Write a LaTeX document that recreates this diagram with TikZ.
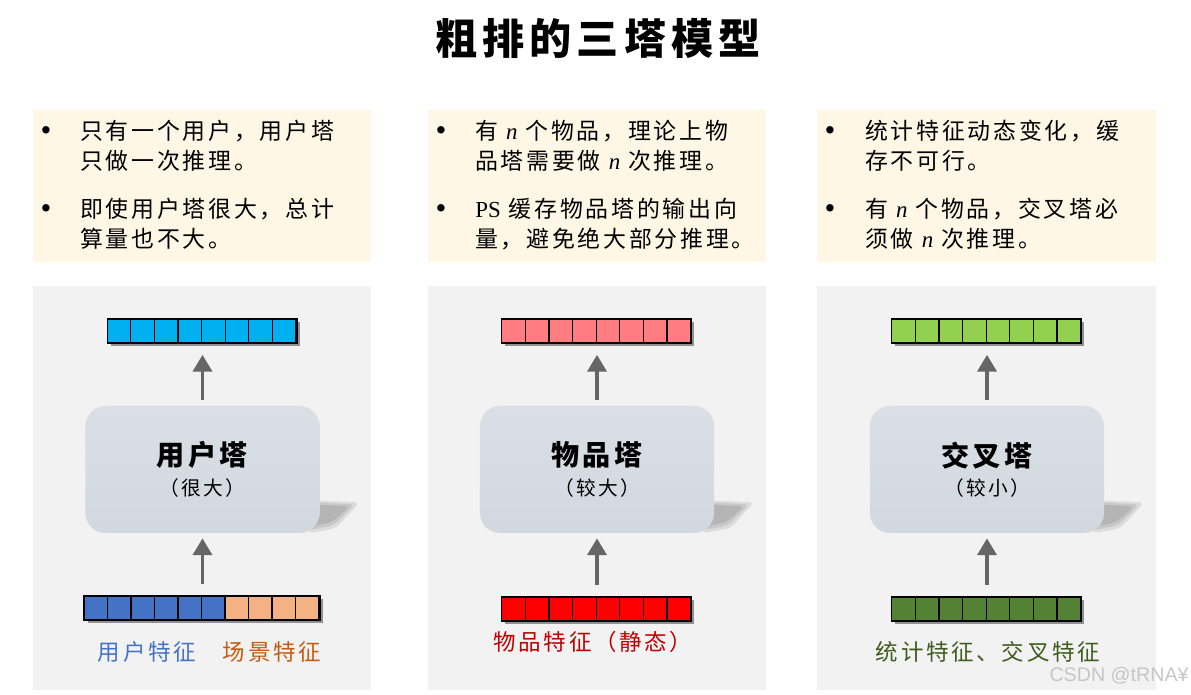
\documentclass[tikz,border=0pt]{standalone}
\usepackage{fontspec}
\setmainfont{Liberation Serif}
\newfontfamily\cjk[LetterSpace=12]{Noto Sans CJK SC}
\newfontfamily\wmfont{Liberation Sans}
\usepackage{tikz}
\usetikzlibrary{positioning,arrows.meta,shadows,calc}
\pgfdeclarelayer{bg}
\pgfdeclarelayer{shade}
\pgfsetlayers{bg,shade,main}
\definecolor{notebg}{HTML}{FFF7E6}
\definecolor{panelbg}{HTML}{F2F2F2}
\definecolor{towertop}{HTML}{DADFE6}
\definecolor{towerbot}{HTML}{D2D8E0}
\definecolor{usercyan}{HTML}{00B0F0}
\definecolor{itempink}{HTML}{FF7C80}
\definecolor{crosslime}{HTML}{92D050}
\definecolor{featblue}{HTML}{4472C4}
\definecolor{featorange}{HTML}{F4B183}
\definecolor{featred}{HTML}{FF0000}
\definecolor{featgreen}{HTML}{548235}
\definecolor{txtorange}{HTML}{C55A11}
\definecolor{txtred}{HTML}{C00000}
\definecolor{txtgreen}{HTML}{3D5C1E}
\definecolor{arrowgray}{HTML}{666666}
\newcommand{\nvar}{{\rmfamily\itshape n}}

\begin{document}
\begin{tikzpicture}[x=0.025cm, y=-0.025cm,
		note/.style={fill=notebg},
		panel/.style={fill=panelbg},
		bullet/.style={font=\rmfamily\fontsize{22}{24}\selectfont, inner sep=0pt},
		bodytext/.style={font=\cjk\fontsize{16.3}{21.3}\selectfont, align=left,
								inner sep=0pt, anchor=north west},
		tower/.style={rounded corners=0.5cm, minimum width=5.85cm, minimum height=3.175cm,
								align=center, top color=towertop, bottom color=towerbot, font=\cjk},
		towershadow/.style={fill=black, opacity=0.09, rounded corners=4pt},
		vecbox/.style={draw=black, line width=1.2pt, minimum height=0.6cm, inner sep=0pt,
								drop shadow={shadow xshift=2pt, shadow yshift=-2pt, opacity=0.4, fill=black}},
		cell/.style={draw=black, line width=0.9pt, minimum height=0.6cm, inner sep=0pt},
		uparrow/.style={-{Triangle[width=13.5pt,length=12pt]}, line width=2.8pt, draw=arrowgray},
		featlabel/.style={font=\cjk\fontsize{16}{20}\selectfont, inner sep=0pt},
	]
		\useasboundingbox (0,0) rectangle (1191,695);

		% 标题
		\node[font=\cjk\bfseries\fontsize{30}{34}\selectfont] (title) at (598,38) {粗排的三塔模型};

		% 背景框
		\begin{pgfonlayer}{bg}
			\fill[note] (33,110) rectangle (371,262);
			\fill[note] (428,110) rectangle (766,262);
			\fill[note] (817,110) rectangle (1156,262);
			\fill[panel] (33,286) rectangle (371,690);
			\fill[panel] (428,286) rectangle (766,690);
			\fill[panel] (817,286) rectangle (1156,690);
		\end{pgfonlayer}

		% 说明文字
		\node[bullet] (ub1) at (46,134) {•};
		\node[bodytext] (ut1) at (80,120) {只有一个用户，用户塔\\只做一次推理。};
		\node[bullet] (ub2) at (46,212) {•};
		\node[bodytext] (ut2) at (80,198) {即使用户塔很大，总计\\算量也不大。};

		\node[bullet] (ib1) at (441,134) {•};
		\node[bodytext] (it1) at (475,120) {有 \nvar{} 个物品，理论上物\\品塔需要做 \nvar{} 次推理。};
		\node[bullet] (ib2) at (441,212) {•};
		\node[bodytext] (it2) at (475,198) {{\rmfamily PS} 缓存物品塔的输出向\\量，避免绝大部分推理。};

		\node[bullet] (cb1) at (830,134) {•};
		\node[bodytext] (ct1) at (865,120) {统计特征动态变化，缓\\存不可行。};
		\node[bullet] (cb2) at (830,212) {•};
		\node[bodytext] (ct2) at (865,198) {有 \nvar{} 个物品，交叉塔必\\须做 \nvar{} 次推理。};

		% 用户塔
		\node[tower] (utower) at (202.5,469.5)
			{{\bfseries\fontsize{20}{28}\selectfont 用户塔}\\[6pt]{\fontsize{14}{18}\selectfont （很大）}};
		\node[vecbox, fill=usercyan, minimum width=4.72cm] (uout) at (202.5,331) {};
		\foreach \i in {1,...,8}
			\node[cell, fill=usercyan, minimum width=0.59cm] (uo\i) at ($(uout.west)+({(\i-0.5)*23.6},0)$) {};
		\node[vecbox, fill=featblue, minimum width=5.875cm] (uin) at (202.5,608) {};
		\foreach \i in {1,...,6}
			\node[cell, fill=featblue, minimum width=0.5875cm] (ui\i) at ($(uin.west)+({(\i-0.5)*23.5},0)$) {};
		\foreach \i in {7,...,10}
			\node[cell, fill=featorange, minimum width=0.5875cm] (ui\i) at ($(uin.west)+({(\i-0.5)*23.5},0)$) {};
		\node[featlabel, text=featblue] (ulab1) at (147,652) {用户特征};
		\node[featlabel, text=txtorange] (ulab2) at (272,652) {场景特征};

		% 物品塔
		\node[tower] (itower) at (597,469.5)
			{{\bfseries\fontsize{20}{28}\selectfont 物品塔}\\[6pt]{\fontsize{14}{18}\selectfont （较大）}};
		\node[vecbox, fill=itempink, minimum width=4.72cm] (iout) at (597,331) {};
		\foreach \i in {1,...,8}
			\node[cell, fill=itempink, minimum width=0.59cm] (io\i) at ($(iout.west)+({(\i-0.5)*23.6},0)$) {};
		\node[vecbox, fill=featred, minimum width=4.72cm] (iin) at (597,609) {};
		\foreach \i in {1,...,8}
			\node[cell, fill=featred, minimum width=0.59cm] (ii\i) at ($(iin.west)+({(\i-0.5)*23.6},0)$) {};
		\node[featlabel, text=txtred] (ilab) at (593,642) {物品特征（静态）};

		% 交叉塔
		\node[tower] (ctower) at (987,469.5)
			{{\bfseries\fontsize{20}{28}\selectfont 交叉塔}\\[6pt]{\fontsize{14}{18}\selectfont （较小）}};
		\node[vecbox, fill=crosslime, minimum width=4.72cm] (cout) at (987,331) {};
		\foreach \i in {1,...,8}
			\node[cell, fill=crosslime, minimum width=0.59cm] (co\i) at ($(cout.west)+({(\i-0.5)*23.6},0)$) {};
		\node[vecbox, fill=featgreen, minimum width=4.72cm] (cin) at (987,609) {};
		\foreach \i in {1,...,8}
			\node[cell, fill=featgreen, minimum width=0.59cm] (ci\i) at ($(cin.west)+({(\i-0.5)*23.6},0)$) {};
		\node[featlabel, text=txtgreen] (clab) at (988,652) {统计特征、交叉特征};

		% 塔的阴影（几层叠加，边缘较淡）
		\begin{pgfonlayer}{shade}
			\foreach \t in {utower,itower,ctower} {
				\fill[towershadow] ($(\t.south east)+(-12,-33)$) -- ($(\t.south east)+(40,-31)$)
					-- ($(\t.south east)+(16,-5)$) -- ($(\t.south east)+(-12,0)$) -- cycle;
				\fill[towershadow] ($(\t.south east)+(-12,-31)$) -- ($(\t.south east)+(35,-29)$)
					-- ($(\t.south east)+(14,-8)$) -- ($(\t.south east)+(-12,-3)$) -- cycle;
				\fill[towershadow] ($(\t.south east)+(-12,-29)$) -- ($(\t.south east)+(30,-27)$)
					-- ($(\t.south east)+(12,-11)$) -- ($(\t.south east)+(-12,-6)$) -- cycle;
			}
		\end{pgfonlayer}

		% 箭头
		\draw[uparrow, shorten <=4.3pt, shorten >=7.8pt] (utower) -- (uout);
		\draw[uparrow, shorten <=7.8pt, shorten >=3.6pt] (uin) -- (utower);
		\draw[uparrow, shorten <=4.3pt, shorten >=7.8pt] (itower) -- (iout);
		\draw[uparrow, shorten <=7.8pt, shorten >=3.6pt] (iin) -- (itower);
		\draw[uparrow, shorten <=4.3pt, shorten >=7.8pt] (ctower) -- (cout);
		\draw[uparrow, shorten <=7.8pt, shorten >=3.6pt] (cin) -- (ctower);

		% 水印
		\node[font=\wmfont\fontsize{14}{16}\selectfont, text=gray!45, anchor=east, inner sep=0pt]
			(wm) at (1189,676) {CSDN @tRNA¥};
	\end{tikzpicture}
\end{document}
